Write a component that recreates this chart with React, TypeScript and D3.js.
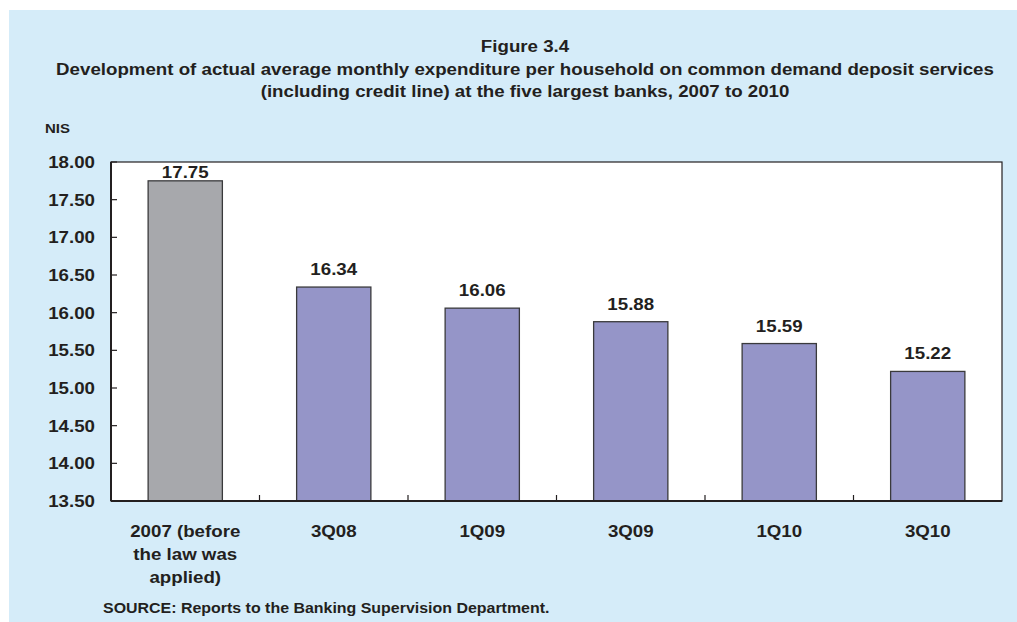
import React from "react";
import * as d3 from "d3";

const categories: string[][] = [
  ["2007 (before", "the law was", "applied)"],
  ["3Q08"],
  ["1Q09"],
  ["3Q09"],
  ["1Q10"],
  ["3Q10"],
];
const values: number[] = [17.75, 16.34, 16.06, 15.88, 15.59, 15.22];
const barColors: string[] = ["#a7a8ac", "#9595c8", "#9595c8", "#9595c8", "#9595c8", "#9595c8"];
const yTicks: number[] = [13.5, 14, 14.5, 15, 15.5, 16, 16.5, 17, 17.5, 18];
const titleLines: string[] = [
  "Figure 3.4",
  "Development of actual average monthly expenditure per household on common demand deposit services",
  "(including credit line) at the five largest banks, 2007 to 2010",
];
const unitLabel = "NIS";
const sourceText = "SOURCE: Reports to the Banking Supervision Department.";

const W = 1017;
const H = 622;
const plot = { left: 111, right: 1002, top: 162, bottom: 501 };
const FONT = "'Liberation Sans', Arial, Helvetica, sans-serif";
const TXT = "#231f20";
const SX = 1.1;

function T(props: { x: number; y: number; size: number; anchor?: string; children: React.ReactNode; sx?: number }) {
  const { x, y, size, anchor = "start", children, sx = SX } = props;
  return (
    <text
      transform={`translate(${x},${y}) scale(${sx},1)`}
      textAnchor={anchor}
      fontWeight="bold"
      fontSize={size}
      fill={TXT}
    >
      {children}
    </text>
  );
}

export default function App() {
  const idx = categories.map((_, i) => String(i));
  const x = d3.scaleBand<string>().domain(idx).range([plot.left, plot.right]).paddingInner(0.5).paddingOuter(0.25);
  const y = d3.scaleLinear().domain([13.5, 18]).range([plot.bottom, plot.top]);
  const boundaries = d3.range(1, categories.length).map((i) => plot.left + (plot.right - plot.left) * i / categories.length);

  return (
    <svg width={W} height={H} style={{ position: "absolute", left: 0, top: 0 }} fontFamily={FONT}>
      <rect x={0} y={0} width={W} height={H} fill="#ffffff" />
      <rect x={9} y={10} width={W - 9} height={H - 10} fill="#d5ecf9" />
      {titleLines.map((t, i) => (
        <T key={i} x={525} y={52 + (i === 0 ? 0 : 1 + i * 22)} anchor="middle" size={17}>
          {t}
        </T>
      ))}
      <T x={45} y={133} size={12.5} sx={1.2}>{unitLabel}</T>
      <rect x={plot.left} y={plot.top} width={plot.right - plot.left} height={plot.bottom - plot.top} fill="#ffffff" stroke="#231f20" strokeWidth={1.2} />
      {yTicks.map((t) => (
        <g key={t}>
          <line x1={plot.left} x2={plot.left + 6} y1={y(t)} y2={y(t)} stroke="#231f20" strokeWidth={1.2} />
          <T x={95} y={y(t) + 6} anchor="end" size={17}>
            {t.toFixed(2)}
          </T>
        </g>
      ))}
      {boundaries.map((b, i) => (
        <line key={i} x1={b} x2={b} y1={plot.bottom} y2={plot.bottom - 6} stroke="#231f20" strokeWidth={1.2} />
      ))}
      {values.map((v, i) => {
        const bx = x(String(i))!;
        const top = y(v);
        const labelY = Math.max(top - 12, plot.top + 16);
        return (
          <g key={i}>
            <rect x={bx} y={top} width={x.bandwidth()} height={plot.bottom - top} fill={barColors[i]} stroke="#3a3a3c" strokeWidth={1.3} />
            <T x={bx + x.bandwidth() / 2} y={labelY} anchor="middle" size={17}>
              {v.toFixed(2)}
            </T>
          </g>
        );
      })}
      <line x1={plot.left} x2={plot.left} y1={plot.top} y2={plot.bottom} stroke="#231f20" strokeWidth={2} />
      <line x1={plot.left} x2={plot.right} y1={plot.bottom} y2={plot.bottom} stroke="#231f20" strokeWidth={2} />
      {categories.map((lines, i) =>
        lines.map((l, j) => (
          <T key={`${i}-${j}`} x={x(String(i))! + x.bandwidth() / 2} y={537 + j * 23} anchor="middle" size={17}>
            {l}
          </T>
        ))
      )}
      <T x={103} y={613} size={14.5}>{sourceText}</T>
    </svg>
  );
}
